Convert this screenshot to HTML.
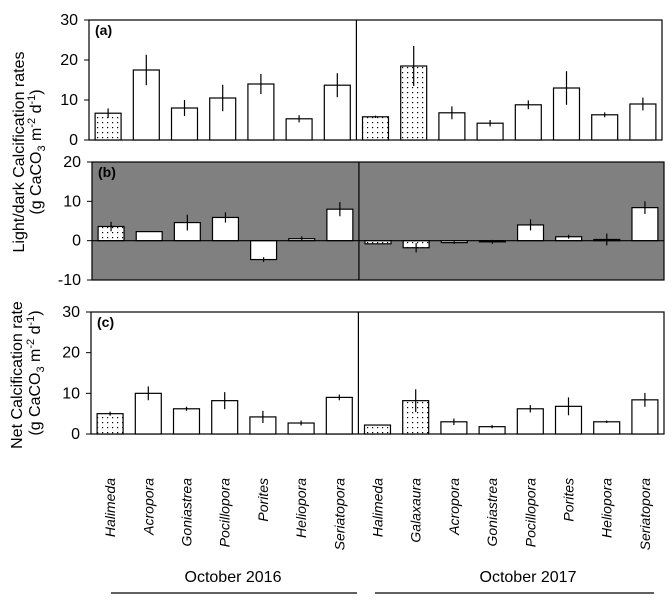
<!DOCTYPE html>
<html><head><meta charset="utf-8"><style>
body{margin:0;background:#fff}
svg{display:block;font-family:"Liberation Sans",sans-serif}
</style></head><body>
<svg id="chart" width="672" height="600" viewBox="0 0 672 600" xmlns="http://www.w3.org/2000/svg">
<defs>
<pattern id="dots" width="5" height="5" patternUnits="userSpaceOnUse"><rect width="5" height="5" fill="#fff"/><rect x="2" y="2" width="1.2" height="1.2" fill="#000"/></pattern>
</defs>
</svg>
<script>
const categories=["Halimeda","Acropora","Goniastrea","Pocillopora","Porites","Heliopora","Seriatopora","Halimeda","Galaxaura","Acropora","Goniastrea","Pocillopora","Porites","Heliopora","Seriatopora"];
const dotted=[1,0,0,0,0,0,0,1,1,0,0,0,0,0,0];
const valuesA=[6.7,17.5,8,10.5,14,5.3,13.7,5.8,18.5,6.8,4.2,8.8,13,6.3,9];
const errorsA=[1.2,3.8,2,3.3,2.5,0.9,3,0.3,5,1.6,0.8,1.1,4.2,0.6,1.6];
const valuesB=[3.6,2.3,4.6,5.9,-4.8,0.5,8,-0.8,-1.8,-0.5,-0.3,4,1,0.3,8.4];
const errorsB=[1.2,0,2,1.3,0.6,0.6,1.8,0,1.2,0.3,0.5,1.4,0.5,1.5,1.6];
const valuesC=[5,10,6.2,8.2,4.2,2.7,9,2.2,8.2,3,1.8,6.2,6.8,3,8.4];
const errorsC=[0.5,1.7,0.5,2.1,1.5,0.6,0.7,0,2.8,0.8,0.4,0.9,2.2,0.3,1.7];
const ticksA=[0,10,20,30];
const ticksB=[-10,0,10,20];
const ticksC=[0,10,20,30];
const groups=["October 2016","October 2017"];

const svg=document.getElementById('chart');
const NS="http://www.w3.org/2000/svg";
function mk(tag,at,parent){const e=document.createElementNS(NS,tag);for(const k in at)e.setAttribute(k,at[k]);(parent||svg).appendChild(e);return e;}

function panel(cfg){
  const g=mk('g',{});
  
  
  const {x0,x1,y0,y1,min,max}=cfg;
  const y=v=>y1-(v-min)/(max-min)*(y1-y0);
  const band=(x1-x0)/categories.length;
  const bx=i=>x0+band*(i+0.5);
  const bg=mk('rect',{x:x0,y:y0,width:x1-x0,height:y1-y0,fill:cfg.bg,stroke:'#000','stroke-width':1.2},g);
  
  
  const div=mk('line',{x1:x0+band*7,x2:x0+band*7,y1:y0,y2:y1,stroke:'#000','stroke-width':1.2},g);
  
  
  cfg.ticks.forEach(t=>{
    const tl=mk('line',{x1:x0-5,x2:x0,y1:y(t),y2:y(t),stroke:'#000'},g);
    
    
    const tx=mk('text',{x:x0-11,y:y(t)+5,'text-anchor':'end','font-size':16,fill:'#000'},g);
    tx.textContent=t;
    
    
  });
  cfg.vals.forEach((v,i)=>{
    const w=band*0.68;
    const top=Math.min(y(v),y(0)),h=Math.abs(y(v)-y(0));
    const r=mk('rect',{x:bx(i)-w/2,y:top,width:w,height:Math.max(h,1),fill:dotted[i]?'url(#dots)':'#fff',stroke:'#000','stroke-width':1.2},g);
    
    
    const e=cfg.errs[i];
    if(e>0){
      const el=mk('line',{x1:bx(i),x2:bx(i),y1:y(v+e),y2:y(v-e),stroke:'#000','stroke-width':1.2},g);
      
      
    }
  });
  if(cfg.zero){
    const z=mk('line',{x1:x0,x2:x1,y1:y(0),y2:y(0),stroke:'#000','stroke-width':1.2},g);
    
    
  }
  const lb=mk('text',{x:x0+6,y:y0+15,'font-size':14,'font-weight':'bold'},g);
  lb.textContent=cfg.label;
  
  
  return {bx};
}
panel({name:'panel-a',x0:89,x1:662,y0:20,y1:140,min:0,max:30,vals:valuesA,errs:errorsA,ticks:ticksA,bg:'#fff',label:'(a)'});
panel({name:'panel-b',x0:92,x1:664,y0:162,y1:280,min:-10,max:20,vals:valuesB,errs:errorsB,ticks:ticksB,bg:'#808080',label:'(b)',zero:true});
const pc=panel({name:'panel-c',x0:91,x1:664,y0:312,y1:434,min:0,max:30,vals:valuesC,errs:errorsC,ticks:ticksC,bg:'#fff',label:'(c)'});

categories.forEach((c,i)=>{
  const x=pc.bx(i)+5;
  const t=mk('text',{x:x,y:478,transform:`rotate(-90 ${x} 478)`,'text-anchor':'end','font-size':14,'font-style':'italic'});
  t.textContent=c;
  
  
});
const gx=[233,528];
groups.forEach((gname,i)=>{
  const t=mk('text',{x:gx[i],y:582,'text-anchor':'middle','font-size':16});
  t.textContent=gname;
  
  
});
[[111,357],[375,654]].forEach(([a,b])=>{
  const l=mk('line',{x1:a,x2:b,y1:593,y2:593,stroke:'#000','stroke-width':1.2});
  
  
});
function ytitle(x,cy,html,name){
  const t=mk('text',{x:x,y:cy,transform:`rotate(-90 ${x} ${cy})`,'text-anchor':'middle','font-size':16});
  t.innerHTML=html;
  
  
}
ytitle(24,152,'Light/dark Calcification rates','y-axis-title-ab');
ytitle(41,152,'(g CaCO<tspan font-size="11" dy="4">3</tspan><tspan dy="-4"> m</tspan><tspan font-size="11" dy="-6">-2</tspan><tspan dy="6"> d</tspan><tspan font-size="11" dy="-6">-1</tspan><tspan dy="6">)</tspan>','y-axis-units-ab');
ytitle(22,375,'Net Calcification rate','y-axis-title-c');
ytitle(40,373,'(g CaCO<tspan font-size="11" dy="4">3</tspan><tspan dy="-4"> m</tspan><tspan font-size="11" dy="-6">-2</tspan><tspan dy="6"> d</tspan><tspan font-size="11" dy="-6">-1</tspan><tspan dy="6">)</tspan>','y-axis-units-c');
</script>
</body></html>
